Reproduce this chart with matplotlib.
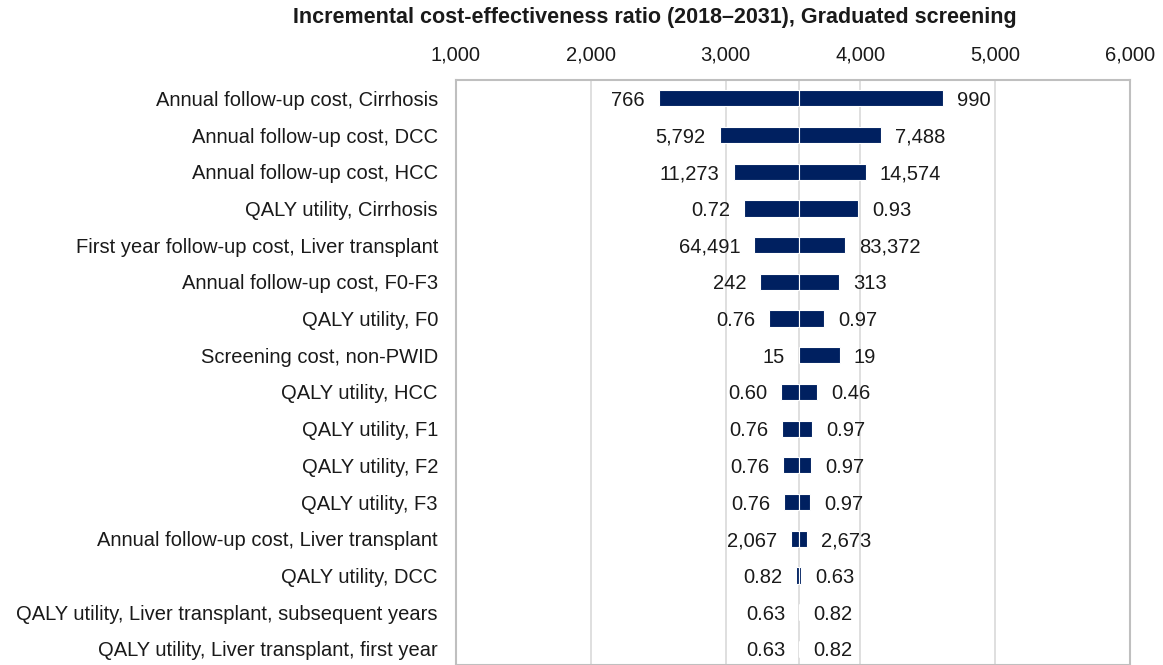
import matplotlib
matplotlib.use("Agg")
import matplotlib.pyplot as plt
import numpy as np

plt.rcParams['font.family'] = ['Liberation Sans', 'DejaVu Sans']

# tornado data (ICER, base case ~3545)
params = ["Annual follow-up cost, Cirrhosis",
          "Annual follow-up cost, DCC",
          "Annual follow-up cost, HCC",
          "QALY utility, Cirrhosis",
          "First year follow-up cost, Liver transplant",
          "Annual follow-up cost, F0-F3",
          "QALY utility, F0",
          "Screening cost, non-PWID",
          "QALY utility, HCC",
          "QALY utility, F1",
          "QALY utility, F2",
          "QALY utility, F3",
          "Annual follow-up cost, Liver transplant",
          "QALY utility, DCC",
          "QALY utility, Liver transplant, subsequent years",
          "QALY utility, Liver transplant, first year"]
base = 3545
low_icer = [2505, 2956, 3059, 3140, 3214, 3258, 3325, 3545, 3413, 3421, 3428, 3435, 3487, 3524, 3545, 3545]
high_icer = [4616, 4151, 4041, 3982, 3886, 3841, 3731, 3849, 3679, 3642, 3635, 3627, 3605, 3561, 3545, 3545]
low_lbl = ["766", "5,792", "11,273", "0.72", "64,491", "242", "0.76", "15", "0.60",
           "0.76", "0.76", "0.76", "2,067", "0.82", "0.63", "0.63"]
high_lbl = ["990", "7,488", "14,574", "0.93", "83,372", "313", "0.97", "19", "0.46",
            "0.97", "0.97", "0.97", "2,673", "0.63", "0.82", "0.82"]
xticks = [1000, 2000, 3000, 4000, 5000, 6000]

navy = "#002060"
fs = 14.5
fig = plt.figure(figsize=(11.63, 6.65), dpi=100)
ax = fig.add_axes([456/1163, 0, (1130-456)/1163, 1-80/665])

y = np.arange(len(params))
lo = np.array(low_icer) - base
hi = np.array(high_icer) - base
ax.barh(y, lo, left=base, height=0.44, color=navy, edgecolor="white", linewidth=0.8, zorder=3)
ax.barh(y, hi, left=base, height=0.44, color=navy, edgecolor="white", linewidth=0.8, zorder=3)
ax.axvline(base, color="#d9d9d9", lw=1.2, zorder=1)

for i in range(len(params)):
    ax.annotate(low_lbl[i], (min(low_icer[i], base), y[i]), xytext=(-10, 0), textcoords="offset points",
                ha="right", va="center_baseline", fontsize=fs, color="#1a1a1a")
    ax.annotate(high_lbl[i], (max(high_icer[i], base), y[i]), xytext=(10, 0), textcoords="offset points",
                ha="left", va="center_baseline", fontsize=fs, color="#1a1a1a")

ax.set_xlim(1000, 6000)
ax.set_ylim(15.44, -0.5)
ax.set_xticks(xticks)
ax.set_xticklabels(["{:,}".format(t) for t in xticks], fontsize=fs, color="#1a1a1a")
ax.xaxis.tick_top()
ax.tick_params(axis="x", length=0, pad=11)
ax.set_yticks(y)
ax.set_yticklabels(params, fontsize=fs, color="#1a1a1a", va="center_baseline")
ax.tick_params(axis="y", length=0, pad=13)
ax.grid(axis="x", color="#d9d9d9", lw=1.2, zorder=0)
ax.set_axisbelow(True)
for s in ax.spines.values():
    s.set_color("#bfbfbf")
    s.set_linewidth(1.5)

fig.text(655/1163, 1 - 18/665, "Incremental cost-effectiveness ratio (2018\u20132031), Graduated screening",
         ha="center", va="center", fontsize=15.5, fontweight="bold", color="#1a1a1a")

fig.savefig("out.png", dpi=100)
